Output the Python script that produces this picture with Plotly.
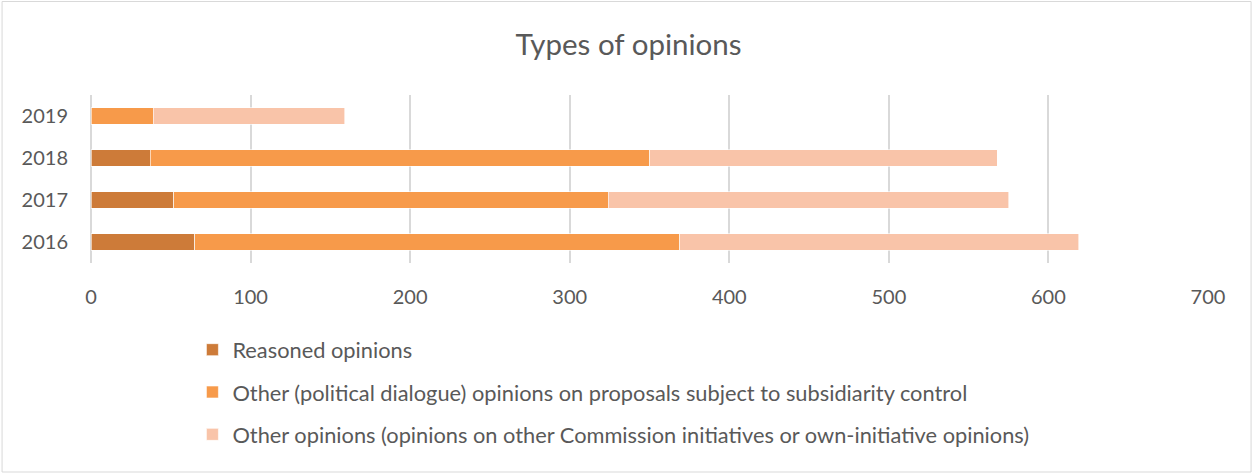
import plotly.graph_objects as go

years = ["2016", "2017", "2018", "2019"]
reasoned = [65, 52, 37, 0]
political = [304, 272, 313, 39]
other = [250, 251, 218, 120]
series_names = [
    "Reasoned opinions",
    "Other (political dialogue) opinions on proposals subject to subsidiarity control",
    "Other opinions (opinions on other Commission initiatives or own-initiative opinions)",
]
colors = ["#CD7B39", "#F79A4A", "#F9C4A9"]
x_ticks = [0, 100, 200, 300, 400, 500, 600, 700]

W, H = 1253, 474
ML, MR, MT, MB = 90.5, W - 1208.4, 95, H - 263
PW, PH = W - ML - MR, H - MT - MB

fig = go.Figure()
for i, (name, vals) in enumerate(zip(series_names, [reasoned, political, other])):
    fig.add_trace(go.Bar(
        y=years, x=vals, name=name, orientation="h",
        marker=dict(color=colors[i], line=dict(color="rgba(255,255,255,0.6)", width=1)),
        legendgroup=f"g{i}",
    ))

def px_x(p):
    return (p - ML) / PW

def px_y(p):
    return (H - MB - p) / PH

fig.add_shape(type="rect", xref="paper", yref="paper",
              x0=px_x(1.5), x1=px_x(W - 1.5), y0=px_y(H - 2), y1=px_y(1.5),
              line=dict(color="#D9D9D9", width=1), fillcolor="rgba(0,0,0,0)", layer="below")

fig.update_layout(
    width=W, height=H,
    margin=dict(l=ML, r=MR, t=MT, b=MB, autoexpand=False),
    barmode="stack", bargap=0.6,
    paper_bgcolor="white", plot_bgcolor="white",
    font=dict(family="Lato, Carlito, sans-serif", color="#595959", size=20),
    title=dict(text="Types of opinions", x=628.5 / W, xref="container", xanchor="center",
               y=1 - 45 / H, yanchor="middle", yref="container",
               font=dict(size=29.5, color="#595959")),
    showlegend=True,
    legend=dict(orientation="v", x=px_x(192), xanchor="left", y=px_y(329), yanchor="top",
                traceorder="grouped", tracegroupgap=11, font=dict(size=21.8, color="#595959"),
                bgcolor="rgba(0,0,0,0)", itemwidth=30),
    xaxis=dict(range=[0, 700], tickvals=x_ticks, showgrid=True, gridcolor="#D9D9D9",
               gridwidth=1.5, zeroline=True, zerolinecolor="#D9D9D9", zerolinewidth=1.5,
               showline=False, ticks="", ticklabelstandoff=20,
               tickfont=dict(size=20, color="#595959")),
    yaxis=dict(categoryorder="array", categoryarray=years, showgrid=False, showline=False,
               ticks="", ticklabelstandoff=22, tickfont=dict(size=20, color="#595959")),
)

fig.write_html("out.html", config={"displayModeBar": False},
               post_script="document.body.style.margin='0';")
